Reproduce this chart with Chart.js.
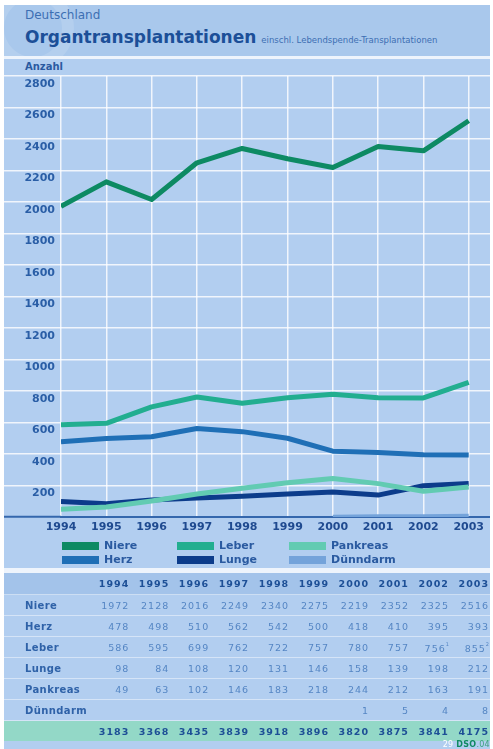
<!DOCTYPE html>
<html>
<head>
<meta charset="utf-8">
<script src="https://cdn.jsdelivr.net/npm/chart.js@4.4.0/dist/chart.umd.min.js"></script>
<style>
body { margin:0; background:#fff; width:493px; height:749px; overflow:hidden; font-family:'DejaVu Sans', sans-serif; }
.abs { position:absolute; }
#panel { left:4px; top:5px; width:486px; height:744px; background:#b2cef0; }
#titleband { left:4px; top:5px; width:486px; height:51px; background:#a9c8ec; overflow:hidden; }
#ring { left:-12px; top:-18px; width:58px; height:58px; border-radius:50%; border:12px solid rgba(255,255,255,0.13); }
#sep1 { left:4px; top:56px; width:486px; height:3px; background:#eef4fc; }
#land { left:25px; top:8px; font-size:12px; color:#3d6fb3; }
#title { left:25px; top:27px; font-size:17px; font-weight:bold; color:#1c4f98; white-space:nowrap; }
#title span { font-size:8.5px; font-weight:normal; color:#3d6fb3; margin-left:5px; }
#anzahl { left:25px; top:61px; font-size:10px; font-weight:bold; color:#2a5aa0; }
#chart { left:4px; top:70px; }
#legend .item { position:absolute; font-size:11px; font-weight:bold; color:#2a5aa0; line-height:12px; }
#legend .box { position:absolute; width:37px; height:8px; }
#sep2 { left:4px; top:568px; width:486px; height:5px; background:#eef4fc; }
#tbl { left:4px; top:573px; width:486px; border-collapse:collapse; table-layout:fixed; }
#tbl td { height:20px; padding:0 1px 0 0; font-size:9.5px; letter-spacing:1px; text-align:right; color:#5586c4; border-top:1px solid rgba(255,255,255,0.45); white-space:nowrap; }
#tbl td.lab { text-align:left; padding-left:21px; font-size:10px; letter-spacing:0.4px; font-weight:bold; color:#2f62a8; }
#tbl tr.head td { height:21px; background:#a3c3ea; font-weight:bold; color:#1d4f96; border-top:none; }
#tbl tr.total td { background:#93d8c7; font-weight:bold; color:#1d4f96; }
#tbl sup { font-size:5px; letter-spacing:0; vertical-align:6px; }
#foot { right:3px; top:740px; font-size:8px; color:#fff; letter-spacing:0.3px; }
#foot b { color:#0f8a62; }
#foot i { font-style:normal; color:#3aa07e; }
</style>
</head>
<body>
<div id="panel" class="abs"></div>
<div id="titleband" class="abs"><div id="ring" class="abs"></div></div>
<div id="sep1" class="abs"></div>
<div id="land" class="abs">Deutschland</div>
<div id="title" class="abs">Organtransplantationen<span>einschl. Lebendspende-Transplantationen</span></div>
<div id="anzahl" class="abs">Anzahl</div>
<canvas id="chart" class="abs" width="486" height="470"></canvas>
<div id="legend"></div>
<div id="sep2" class="abs"></div>
<table id="tbl" class="abs"></table>
<div id="foot" class="abs">29 <b>DSO</b><i>.04</i></div>

<script>
var years = [1994, 1995, 1996, 1997, 1998, 1999, 2000, 2001, 2002, 2003];
var niere = [1972, 2128, 2016, 2249, 2340, 2275, 2219, 2352, 2325, 2516];
var herz = [478, 498, 510, 562, 542, 500, 418, 410, 395, 393];
var leber = [586, 595, 699, 762, 722, 757, 780, 757, 756, 855];
var lunge = [98, 84, 108, 120, 131, 146, 158, 139, 198, 212];
var pankreas = [49, 63, 102, 146, 183, 218, 244, 212, 163, 191];
var duenndarm = [null, null, null, null, null, null, 1, 5, 4, 8];
var totals = [3183, 3368, 3435, 3839, 3918, 3896, 3820, 3875, 3841, 4175];
var leberNotes = ['', '', '', '', '', '', '', '', '1', '2'];

// legend order (row by row) and table order
var legendOrder = ['Niere', 'Leber', 'Pankreas', 'Herz', 'Lunge', 'Dünndarm'];
var tableOrder = ['Niere', 'Herz', 'Leber', 'Lunge', 'Pankreas', 'Dünndarm'];

var seriesValues = {
	'Niere': niere, 'Herz': herz, 'Leber': leber,
	'Lunge': lunge, 'Pankreas': pankreas, 'Dünndarm': duenndarm
};
var seriesColors = {
	'Niere': '#0d8a63', 'Leber': '#22ae90', 'Pankreas': '#62cbb2',
	'Herz': '#1f6fb6', 'Lunge': '#0c3c8b', 'Dünndarm': '#74a3da'
};

var axisBlue = '#3467ad';
var gridWhite = 'rgba(255,255,255,0.8)';

function toXY(values) {
	var out = [];
	for (var i = 0; i < years.length; i++) {
		out.push({x: years[i], y: values[i]});
	}
	return out;
}

var datasets = [];
for (var i = 0; i < legendOrder.length; i++) {
	var name = legendOrder[i];
	datasets.push({
		label: name,
		data: toXY(seriesValues[name]),
		borderColor: seriesColors[name],
		backgroundColor: seriesColors[name],
		borderWidth: name == 'Dünndarm' ? 4 : 5,
		pointRadius: 0,
		tension: 0,
		borderJoinStyle: 'round',
		spanGaps: false
	});
}

const config = {
	type: 'line',
	data: { datasets: datasets },
	options: {
		responsive: false,
		animation: false,
		layout: { padding: { top: 6, left: 0, right: 0, bottom: 0 } },
		plugins: { legend: { display: false }, tooltip: { enabled: false } },
		scales: {
			x: {
				type: 'linear',
				min: 1994,
				max: 2003.47,
				afterFit: function(s) { s.height = 23; },
				ticks: {
					stepSize: 1,
					includeBounds: false,
					padding: 5,
					color: '#1f4a90',
					font: { family: 'DejaVu Sans', weight: 'bold', size: 11, lineHeight: 1 },
					callback: function(v) { return String(v); },
					maxRotation: 0
				},
				grid: {
					drawTicks: false,
					color: gridWhite,
					lineWidth: 1.5
				},
				border: { color: axisBlue, width: 2 }
			}, //end of x-axis
			y: {
				min: 0,
				max: 2800,
				afterFit: function(s) { s.width = 57; },
				ticks: {
					stepSize: 200,
					padding: -51,
					labelOffset: 8,
					color: '#2a5ea6',
					font: { family: 'DejaVu Sans', weight: 'bold', size: 11, lineHeight: 1 },
					callback: function(v) { return v == 0 ? '' : String(v); }
				},
				grid: {
					drawTicks: true,
					tickLength: 57,
					color: function(ctx) { return ctx.tick && ctx.tick.value == 0 ? 'rgba(0,0,0,0)' : gridWhite; },
					tickColor: function(ctx) { return ctx.tick && ctx.tick.value == 0 ? axisBlue : gridWhite; },
					lineWidth: 1.5,
					tickWidth: function(ctx) { return ctx.tick && ctx.tick.value == 0 ? 2 : 1.5; }
				},
				border: { display: false }
			} //end of y-axis
		} //end of scales
	} //end of options
}; //end of config

var myChart = new Chart(document.getElementById('chart'), config);

// legend, built from the datasets
var legend = document.getElementById('legend');
var legendCols = [62, 177, 289];
var legendRows = [542, 556];
for (var i = 0; i < legendOrder.length; i++) {
	var c = legendCols[i % 3], r = legendRows[Math.floor(i / 3)];
	var box = document.createElement('div');
	box.className = 'box';
	box.style.left = c + 'px';
	box.style.top = r + 'px';
	box.style.background = seriesColors[legendOrder[i]];
	legend.appendChild(box);
	var txt = document.createElement('div');
	txt.className = 'item';
	txt.style.left = (c + 42) + 'px';
	txt.style.top = (r - 2) + 'px';
	txt.textContent = legendOrder[i];
	legend.appendChild(txt);
}

// table under the chart
var html = '<colgroup><col style="width:86px">';
for (var i = 0; i < years.length; i++) html += '<col style="width:39.8px">';
html += '</colgroup><tr class="head"><td class="lab"></td>';
for (var i = 0; i < years.length; i++) html += '<td>' + years[i] + '</td>';
html += '</tr>';
for (var k = 0; k < tableOrder.length; k++) {
	var name = tableOrder[k];
	html += '<tr><td class="lab">' + name + '</td>';
	for (var i = 0; i < years.length; i++) {
		var v = seriesValues[name][i];
		var note = name == 'Leber' && leberNotes[i] ? '<sup>' + leberNotes[i] + '</sup>' : '';
		html += '<td>' + (v == null ? '' : v) + note + '</td>';
	}
	html += '</tr>';
}
html += '<tr class="total"><td class="lab"></td>';
for (var i = 0; i < years.length; i++) html += '<td>' + totals[i] + '</td>';
html += '</tr>';
document.getElementById('tbl').innerHTML = html;
</script>
</body>
</html>
